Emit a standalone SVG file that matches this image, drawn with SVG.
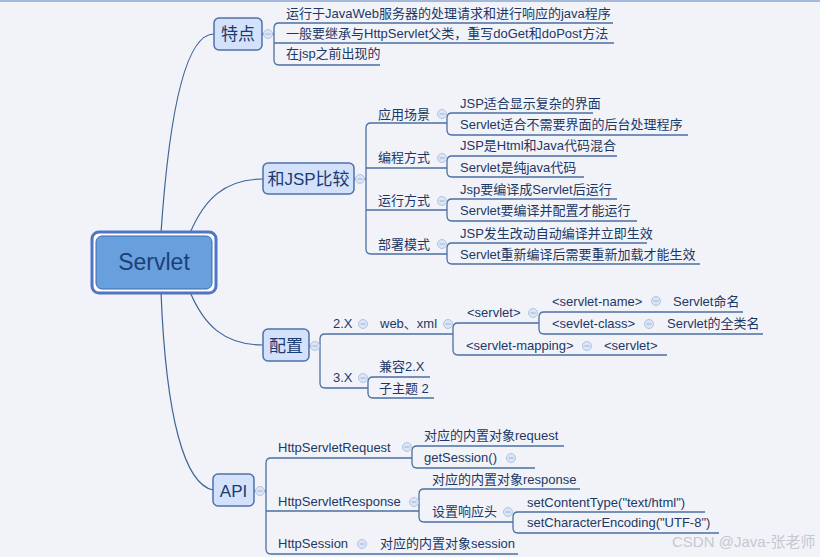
<svg xmlns="http://www.w3.org/2000/svg" width="820" height="557" viewBox="0 0 820 557">
<style>
.bg{fill:#f2f3f8}
.ln{fill:none;stroke:#4b70a3;stroke-width:1.3}
.cv{fill:none;stroke:#3d6597;stroke-width:1.2}
.n1 rect{fill:#d3e1fb;stroke:#4d72a8;stroke-width:1.5}
.n1 text{font-family:"Liberation Sans","Noto Sans CJK SC",sans-serif;font-size:17px;fill:#1a3b72;text-anchor:middle}
.t{font-family:"Liberation Sans","Noto Sans CJK SC",sans-serif;font-size:13px;fill:#1c3866}
.mc circle{fill:#dbe5f6;stroke:#b0c4e5;stroke-width:1}
.mc path{stroke:#9cb2d6;stroke-width:1}
</style>
<defs>
<g id="minus" class="mc"><circle cx="0" cy="0" r="4.5"/><path d="M-2.5,0H2.5"/></g>
</defs>
<rect class="bg" x="0" y="0" width="820" height="557"/>
<rect x="0" y="0" width="820" height="2" fill="#a3b8da"/>

<g id="connectors">
<path class="cv" d="M161,233 C168,130 182,34 214,34"/>
<path class="cv" d="M190,233 C204,200 224,179 263,179"/>
<path class="cv" d="M190,292 C204,325 224,345 263,345"/>
<path class="cv" d="M161,292 C166,420 185,484 213,490"/>
<path class="ln" d="M262,34 H274 M613,23 H279 Q274,23 274,28 V60 Q274,65 279,65 H380 M274,43 H614"/>
<path class="ln" d="M354,179 H366 M447,123 H371 Q366,123 366,128 V249 Q366,254 371,254 H447 M366,168 H447 M366,210 H447"/>
<path class="ln" d="M593,113 H452 Q447,113 447,118 V130 Q447,135 452,135 H688"/>
<path class="ln" d="M617,156 H452 Q447,156 447,161 V172 Q447,177 452,177 H584"/>
<path class="ln" d="M617,199 H452 Q447,199 447,204 V216 Q447,221 452,221 H637"/>
<path class="ln" d="M647,243 H452 Q447,243 447,248 V259 Q447,264 452,264 H700"/>
<path class="ln" d="M309,346 H320 M453,334 H325 Q320,334 320,339 V383 Q320,388 325,388 H368"/>
<path class="ln" d="M539,323 H458 Q453,323 453,328 V350 Q453,355 458,355 H667"/>
<path class="ln" d="M743,312 H544 Q539,312 539,317 V329 Q539,334 544,334 H763"/>
<path class="ln" d="M430,377 H373 Q368,377 368,382 V393 Q368,398 373,398 H434"/>
<path class="ln" d="M254,491 H266 M412,458 H271 Q266,458 266,463 V549 Q266,554 271,554 H518 M266,511 H419"/>
<path class="ln" d="M564,446 H417 Q412,446 412,451 V463 Q412,468 417,468 H535"/>
<path class="ln" d="M580,489 H424 Q419,489 419,494 V517 Q419,522 424,522 H513"/>
<path class="ln" d="M705,512 H518 Q513,512 513,517 V528 Q513,533 518,533 H719"/>
</g>

<g id="servlet">
<rect x="92" y="232" width="124" height="61" rx="7" fill="#ffffff" stroke="#4f75c4" stroke-width="3"/>
<rect x="96" y="236" width="116" height="53" rx="6" fill="#68a0dd" stroke="#3b6aa8" stroke-width="1"/>
<text x="154" y="270" font-family="Liberation Sans, sans-serif" font-size="23" fill="#1d3f75" text-anchor="middle">Servlet</text>
</g>

<g id="tedian">
<g class="n1"><rect x="214" y="18" width="48" height="32" rx="5"/><text x="238" y="40">特点</text></g>
<use href="#minus" x="268" y="34"/>
<text class="t" x="286" y="17.5">运行于JavaWeb服务器的处理请求和进行响应的java程序</text>
<text class="t" x="286" y="37.5">一般要继承与HttpServlet父类，重写doGet和doPost方法</text>
<text class="t" x="286" y="57.5">在jsp之前出现的</text>
</g>

<g id="jsp">
<g class="n1"><rect x="263" y="163" width="91" height="31" rx="5"/><text x="308.5" y="184.5">和JSP比较</text></g>
<use href="#minus" x="360" y="179"/>
<text class="t" x="378" y="118.5">应用场景</text><use href="#minus" x="442" y="114"/>
<text class="t" x="378" y="161.5">编程方式</text><use href="#minus" x="442" y="158"/>
<text class="t" x="378" y="204.5">运行方式</text><use href="#minus" x="442" y="201"/>
<text class="t" x="378" y="248.5">部署模式</text><use href="#minus" x="442" y="244"/>
<text class="t" x="460" y="107.5">JSP适合显示复杂的界面</text>
<text class="t" x="460" y="128.5">Servlet适合不需要界面的后台处理程序</text>
<text class="t" x="460" y="149.5">JSP是Html和Java代码混合</text>
<text class="t" x="460" y="171.5">Servlet是纯java代码</text>
<text class="t" x="460" y="193.5">Jsp要编译成Servlet后运行</text>
<text class="t" x="460" y="214.5">Servlet要编译并配置才能运行</text>
<text class="t" x="460" y="237.5">JSP发生改动自动编译并立即生效</text>
<text class="t" x="460" y="258.5">Servlet重新编译后需要重新加载才能生效</text>
</g>

<g id="peizhi">
<g class="n1"><rect x="263" y="329" width="46" height="32" rx="5"/><text x="286" y="351.5">配置</text></g>
<use href="#minus" x="315" y="346"/>
<text class="t" x="333" y="327.5">2.X</text><use href="#minus" x="363" y="324"/>
<text class="t" x="380" y="327.5">web、xml</text><use href="#minus" x="448" y="324"/>
<text class="t" x="467" y="316.5">&lt;servlet&gt;</text><use href="#minus" x="533" y="313"/>
<text class="t" x="552" y="305.5">&lt;servlet-name&gt;</text><use href="#minus" x="656" y="301"/>
<text class="t" x="673" y="305.5">Servlet命名</text>
<text class="t" x="552" y="327.5">&lt;sevlet-class&gt;</text><use href="#minus" x="649" y="324"/>
<text class="t" x="667" y="327.5">Servlet的全类名</text>
<text class="t" x="466" y="349.5">&lt;servlet-mapping&gt;</text><use href="#minus" x="587" y="346"/>
<text class="t" x="604" y="349.5">&lt;servlet&gt;</text>
<text class="t" x="333" y="381.5">3.X</text><use href="#minus" x="363" y="378"/>
<text class="t" x="379" y="370.5">兼容2.X</text>
<text class="t" x="379" y="392.5">子主题 2</text>
</g>

<g id="api">
<g class="n1"><rect x="213" y="474" width="41" height="32" rx="5"/><text x="233.5" y="496.5">API</text></g>
<use href="#minus" x="260" y="491"/>
<text class="t" x="278" y="451.5">HttpServletRequest</text><use href="#minus" x="407" y="447"/>
<text class="t" x="424" y="439.5">对应的内置对象request</text>
<text class="t" x="424" y="461.5">getSession()</text><use href="#minus" x="511" y="458"/>
<text class="t" x="278" y="505.5">HttpServletResponse</text><use href="#minus" x="414" y="502"/>
<text class="t" x="432" y="483.5">对应的内置对象response</text>
<text class="t" x="432" y="515.5">设置响应头</text><use href="#minus" x="508" y="512"/>
<text class="t" x="527" y="506.5">setContentType("text/html")</text>
<text class="t" x="527" y="526.5">setCharacterEncoding("UTF-8")</text>
<text class="t" x="278" y="547.5">HttpSession</text><use href="#minus" x="362" y="544"/>
<text class="t" x="380" y="547.5">对应的内置对象session</text>
</g>

<text x="672" y="547" font-family="Liberation Sans, Noto Sans CJK SC, sans-serif" font-size="15" fill="#c4c8d0">CSDN @Java-张老师</text>
</svg>
